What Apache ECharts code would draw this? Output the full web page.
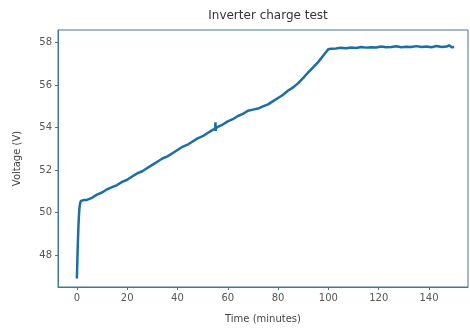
<!DOCTYPE html>
<html>
<head>
<meta charset="utf-8">
<script src="https://cdn.jsdelivr.net/npm/echarts@6/dist/echarts.min.js"></script>
<style>
  html, body { margin: 0; padding: 0; background: #fff; }
  #chart { width: 470px; height: 329px; }
</style>
</head>
<body>
<div id="chart"></div>
<script>
// time in minutes
const timeMin = [
  0, 0.2, 0.4, 0.6, 0.8, 1.0, 1.3, 1.6, 2, 3, 4, 5, 6, 8, 10, 12, 14, 16, 18, 20,
  22, 24, 26, 28, 30, 32, 34, 36, 38, 40, 42, 44, 46, 48, 50, 52, 54, 55, 55.1, 55.2,
  55.4, 56, 58, 60, 62, 64, 66, 68, 70, 72, 74, 76, 78, 80, 82, 84, 86, 88, 90, 92,
  94, 96, 98, 99, 100, 101, 103, 105, 107, 109, 111, 113, 115, 117, 119, 121, 123, 125, 127, 129,
  131, 133, 135, 137, 139, 141, 143, 145, 147, 148, 149, 150
]
// voltage in volts
const voltage = [
  46.9, 47.8, 48.6, 49.3, 49.8, 50.2, 50.45, 50.55, 50.55, 50.6, 50.6, 50.65, 50.7, 50.85, 50.95, 51.1, 51.2, 51.3, 51.45, 51.55,
  51.7, 51.85, 51.95, 52.1, 52.25, 52.4, 52.55, 52.65, 52.8, 52.95, 53.1, 53.2, 53.35, 53.5, 53.6, 53.75, 53.9, 53.95, 54.25, 53.85,
  54.0, 54.05, 54.15, 54.3, 54.4, 54.55, 54.65, 54.8, 54.85, 54.9, 55.0, 55.1, 55.25, 55.4, 55.55, 55.75, 55.9, 56.1, 56.35, 56.6,
  56.85, 57.1, 57.4, 57.55, 57.7, 57.72, 57.73, 57.76, 57.74, 57.78, 57.75, 57.8, 57.77, 57.79, 57.78, 57.82, 57.79, 57.8, 57.83, 57.79,
  57.81, 57.8, 57.84, 57.8, 57.82, 57.79, 57.85, 57.8, 57.82, 57.88, 57.79, 57.8
]
const xTicks = [0, 20, 40, 60, 80, 100, 120, 140]
const yTicks = [48, 50, 52, 54, 56, 58]

const FONT = 'DejaVu Sans'
const SPINE = '#44788e'
const LABEL = '#555'

const chart = echarts.init(document.getElementById('chart'), null, { renderer: 'canvas' })

chart.setOption({
  animation: false,
  backgroundColor: '#fff',
  title: {
    text: 'Inverter charge test',
    left: 263,
    textAlign: 'center',
    top: 5,
    textStyle: { fontFamily: FONT, fontSize: 12, fontWeight: 'normal', color: '#333' },
  },
  grid: {
    left: 58, right: 2, top: 30, bottom: 42,
    show: true, borderColor: SPINE, borderWidth: 1,
  },
  xAxis: {
    type: 'value',
    min: -7.5, max: 155.5,
    name: 'Time (minutes)',
    nameLocation: 'middle',
    nameGap: 27,
    nameTextStyle: { fontFamily: FONT, fontSize: 10, color: '#444' },
    axisLine: { show: true, onZero: false, lineStyle: { color: SPINE } },
    axisTick: { show: true, length: 3, customValues: xTicks, lineStyle: { color: SPINE } },
    axisLabel: { customValues: xTicks, fontFamily: FONT, fontSize: 10, color: LABEL, margin: 6 },
    splitLine: { show: false },
  },
  yAxis: {
    type: 'value',
    min: 46.5, max: 58.6,
    name: 'Voltage (V)',
    nameLocation: 'middle',
    nameGap: 36,
    nameTextStyle: { fontFamily: FONT, fontSize: 10, color: '#444' },
    axisLine: { show: true, onZero: false, lineStyle: { color: SPINE } },
    axisTick: { show: true, length: 3, customValues: yTicks, lineStyle: { color: SPINE } },
    axisLabel: { customValues: yTicks, fontFamily: FONT, fontSize: 10, color: LABEL, margin: 6 },
    splitLine: { show: false },
  },
  series: [{
    type: 'line',
    data: timeMin.map((t, i) => [t, voltage[i]]),
    showSymbol: false,
    lineStyle: { color: '#1c6ea4', width: 2.5 },
  }],
})
</script>
</body>
</html>
